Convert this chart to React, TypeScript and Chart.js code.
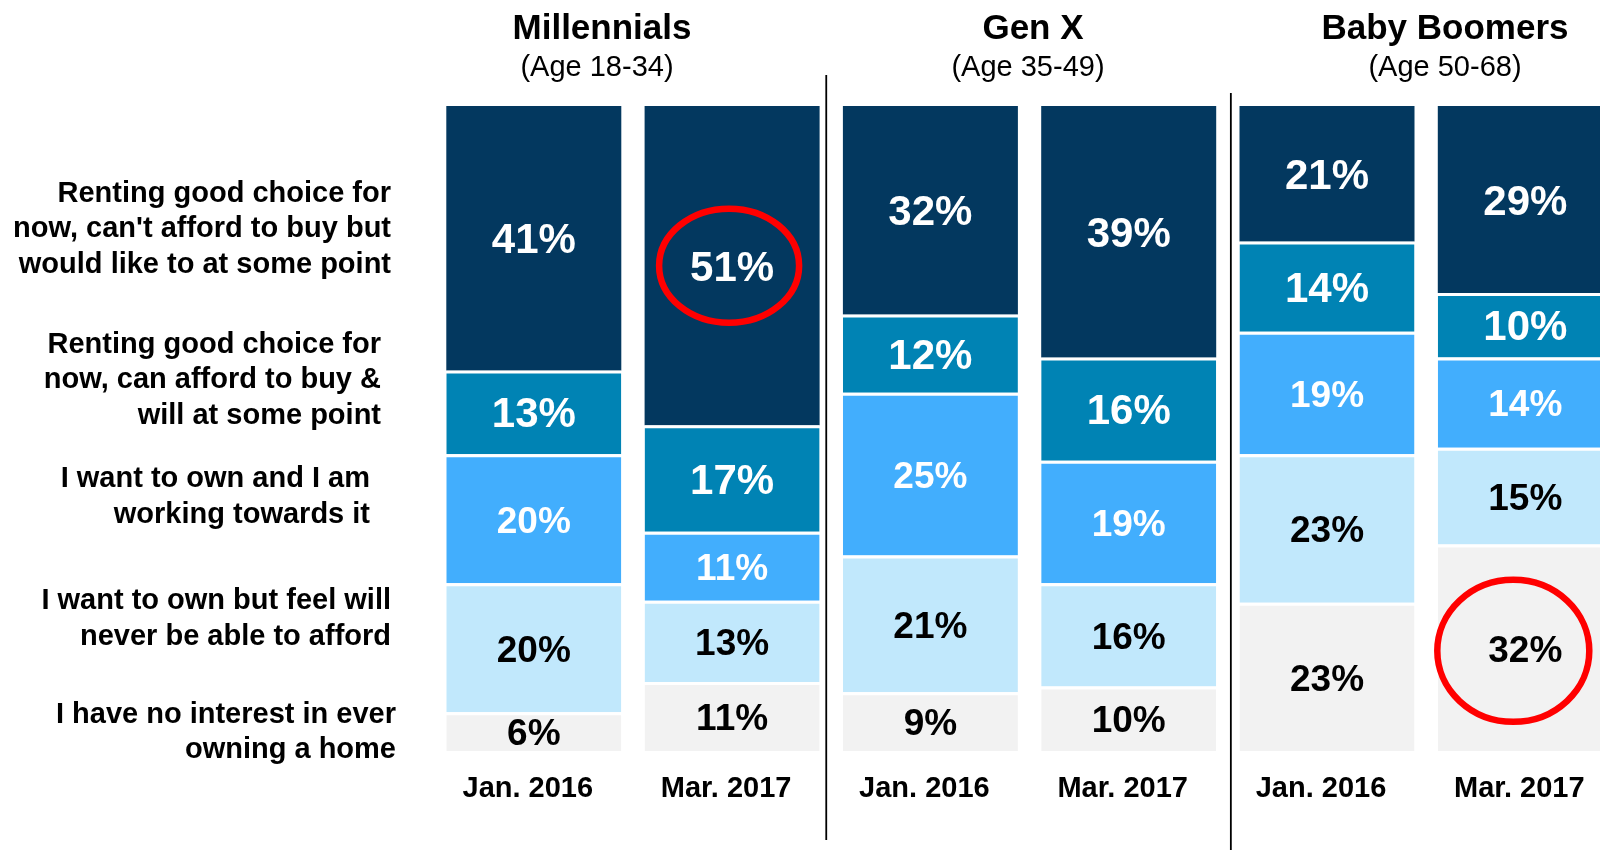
import React, { useEffect, useRef } from "react";
import { Chart, registerables } from "chart.js";

Chart.register(...registerables);

// ---------- data ----------
const periods = ["Jan. 2016", "Mar. 2017", "Jan. 2016", "Mar. 2017", "Jan. 2016", "Mar. 2017"];
const groups = ["Millennials", "Gen X", "Baby Boomers"];
const groupAges = ["(Age 18-34)", "(Age 35-49)", "(Age 50-68)"];

const segmentNames = [
  ["I have no interest in ever", "owning a home"],
  ["I want to own but feel will", "never be able to afford"],
  ["I want to own and I am", "working towards it"],
  ["Renting good choice for", "now, can afford to buy &", "will at some point"],
  ["Renting good choice for", "now, can't afford to buy but", "would like to at some point"],
];

const noInterest = [6, 11, 9, 10, 23, 32];
const neverAfford = [20, 13, 21, 16, 23, 15];
const working = [20, 11, 25, 19, 19, 14];
const canAfford = [13, 17, 12, 16, 14, 10];
const cantAfford = [41, 51, 32, 39, 21, 29];

const series = [noInterest, neverAfford, working, canAfford, cantAfford];
const colors = ["#F2F2F2", "#C1E8FC", "#42AEFD", "#0083B4", "#03385F"];
const textColors = ["#000000", "#000000", "#FFFFFF", "#FFFFFF", "#FFFFFF"];
const labelSizes = [37, 37, 37, 42, 42];

const FONT = "'Liberation Sans', Arial, Helvetica, sans-serif";

export default function App() {
  const ref = useRef<HTMLCanvasElement | null>(null);

  useEffect(() => {
    if (!ref.current) return;
    const totals = periods.map((_, j) => series.reduce((s, arr) => s + arr[j], 0));

    const datasets = series.map((arr, i) => ({
      label: segmentNames[i].join(" "),
      data: arr.map((v, j) => (v / totals[j]) * 100),
      raw: arr,
      backgroundColor: colors[i],
      borderColor: "#FFFFFF",
      borderWidth: i === series.length - 1 ? 0 : { top: 3, left: 0, right: 0, bottom: 0 },
      borderSkipped: false,
      categoryPercentage: 1,
      barPercentage: 0.8825,
    }));

    const valueLabels = {
      id: "valueLabels",
      afterDatasetsDraw(chart: any) {
        const ctx = chart.ctx;
        ctx.save();
        ctx.textAlign = "center";
        ctx.textBaseline = "middle";
        chart.data.datasets.forEach((ds: any, i: number) => {
          const meta = chart.getDatasetMeta(i);
          ctx.fillStyle = textColors[i];
          ctx.font = `bold ${labelSizes[i]}px ${FONT}`;
          meta.data.forEach((bar: any, j: number) => {
            const p = bar.getProps(["x", "y", "base"], true);
            ctx.fillText(`${ds.raw[j]}%`, p.x, (p.y + p.base) / 2 + 3.5);
          });
        });
        // highlight ellipses
        const highlights = [
          { ds: 4, idx: 1, dx: -3, dy: 0, rx: 70, ry: 57 },
          { ds: 0, idx: 5, dx: -12, dy: 3, rx: 76, ry: 71 },
        ];
        ctx.strokeStyle = "#FF0000";
        ctx.lineWidth = 6.5;
        highlights.forEach((h) => {
          const bar = chart.getDatasetMeta(h.ds).data[h.idx];
          const p = bar.getProps(["x", "y", "base"], true);
          ctx.beginPath();
          ctx.ellipse(p.x + h.dx, (p.y + p.base) / 2 + h.dy, h.rx, h.ry, 0, 0, Math.PI * 2);
          ctx.stroke();
        });
        ctx.restore();
      },
    };

    const decorations = {
      id: "decorations",
      afterDraw(chart: any) {
        const ctx = chart.ctx;
        const xs = chart.scales.x;
        ctx.save();
        // separators between groups
        ctx.strokeStyle = "#000000";
        ctx.lineWidth = 1.8;
        const seps = [
          { after: 1, dx: -5, top: 75, bottom: 840 },
          { after: 3, dx: 3, top: 93, bottom: 850 },
        ];
        seps.forEach((s) => {
          const x = (xs.getPixelForValue(s.after) + xs.getPixelForValue(s.after + 1)) / 2 + s.dx;
          ctx.beginPath();
          ctx.moveTo(x, s.top);
          ctx.lineTo(x, s.bottom);
          ctx.stroke();
        });
        // group titles
        ctx.fillStyle = "#000000";
        ctx.textAlign = "center";
        ctx.textBaseline = "alphabetic";
        const titleX = [602, 1033, 1445];
        const ageX = [597, 1028, 1445];
        groups.forEach((g, k) => {
          ctx.font = `bold 35px ${FONT}`;
          ctx.fillText(g, titleX[k], 38.5);
          ctx.font = `29px ${FONT}`;
          ctx.fillText(groupAges[k], ageX[k], 75.5);
        });
        // segment descriptions on the left
        ctx.textAlign = "right";
        ctx.textBaseline = "middle";
        ctx.font = `bold 29px ${FONT}`;
        const descPos = [
          { x: 396, y: 714.5 },
          { x: 391, y: 601 },
          { x: 370, y: 479 },
          { x: 381, y: 344.5 },
          { x: 391, y: 193.5 },
        ];
        segmentNames.forEach((lines, i) => {
          lines.forEach((line, l) => {
            ctx.fillText(line, descPos[i].x, descPos[i].y + l * 35.5);
          });
        });
        ctx.restore();
      },
    };

    const chart = new Chart(ref.current, {
      type: "bar",
      data: { labels: periods, datasets: datasets as any },
      options: {
        responsive: false,
        animation: false,
        devicePixelRatio: 1,
        layout: { padding: { top: 106, left: 434.65, right: 15.55, bottom: 0 } },
        plugins: {
          legend: { display: false },
          tooltip: { enabled: false },
          title: { display: false },
        },
        scales: {
          x: {
            stacked: true,
            grid: { display: false },
            border: { display: false },
            ticks: {
              color: "#000000",
              font: { family: FONT, size: 29, weight: "bold" },
              padding: 13,
              labelOffset: -6,
              maxRotation: 0,
              autoSkip: false,
            },
            afterFit: (s: any) => {
              s.height = 99;
            },
          },
          y: { stacked: true, display: false, min: 0, max: 100 },
        },
      } as any,
      plugins: [valueLabels, decorations],
    });
    return () => chart.destroy();
  }, []);

  return (
    <div
      style={{
        position: "absolute",
        left: 0,
        top: 0,
        width: 1600,
        height: 850,
        overflow: "hidden",
        background: "#FFFFFF",
      }}
    >
      <canvas ref={ref} width={1640} height={850} style={{ display: "block" }} />
    </div>
  );
}
